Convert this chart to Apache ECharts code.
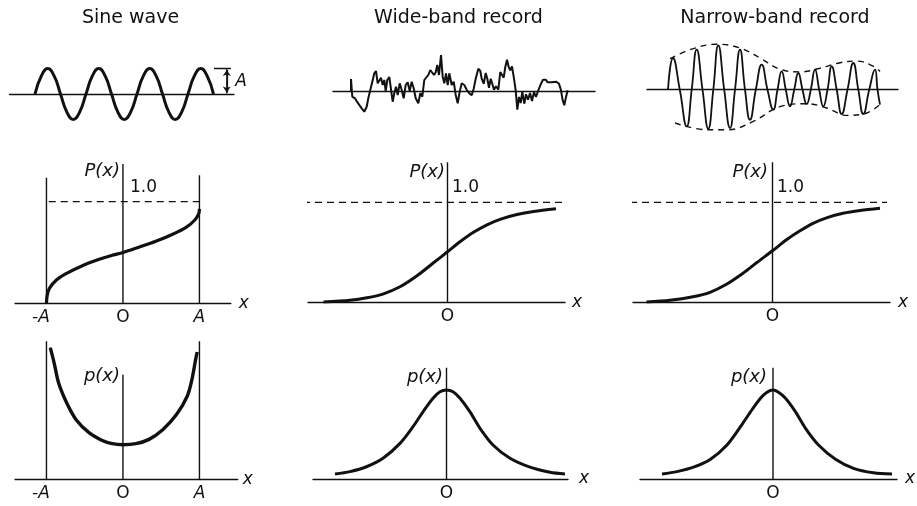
<!DOCTYPE html>
<html>
<head>
<meta charset="utf-8">
<title>Probability functions of three records</title>
<script src="https://cdn.jsdelivr.net/npm/echarts@6/dist/echarts.min.js"></script>
<style>
  html, body { margin: 0; padding: 0; background: #ffffff; }
  #chart { width: 917px; height: 506px; }
</style>
</head>
<body>
<div id="chart"></div>
<script>
// ---------- text ----------
const panelTitles = ['Sine wave', 'Wide-band record', 'Narrow-band record'];
const sineTickValues = [-1, 0, 1];
const sineTickLabels = ['-A', 'O', 'A'];
const randomTickValues = [0];
const randomTickLabels = ['O'];
const cdfLabel = 'P(x)';
const pdfLabel = 'p(x)';
const unitLabel = '1.0';
const amplitudeLabel = 'A';
const axisName = 'x';

// ---------- records (top row) ----------
// sine record: time in periods, amplitude in units of A
const sineTime = [0, 0.125, 0.25, 0.375, 0.5, 0.625, 0.75, 0.875, 1, 1.125, 1.25, 1.375, 1.5, 1.625, 1.75, 1.875,
  2, 2.125, 2.25, 2.375, 2.5, 2.625, 2.75, 2.875, 3, 3.125, 3.25, 3.375, 3.5];
const sineValue = [0, 0.71, 1, 0.71, 0, -0.71, -1, -0.71, 0, 0.71, 1, 0.71, 0, -0.71, -1, -0.71,
  0, 0.71, 1, 0.71, 0, -0.71, -1, -0.71, 0, 0.71, 1, 0.71, 0];

// wide-band record: [time, amplitude]
const wideRecord = [
  [16, 0], [16, 12], [17.3, -5.7], [20, -7.3], [22, -10.7], [24, -9], [26.7, -17.3], [29.3, -20.7], [31.7, -15.7],
  [33.3, -7.3], [35.3, 1], [37.3, 9.3], [39.3, 17.7], [41, 20], [42.7, 7.7], [44.3, 9.3], [46, 13.3], [47.7, 6],
  [49.3, 11], [50.7, 0], [52.3, 11], [54.3, 14], [56, 13.3], [57.7, -10.7], [59.3, -2.3], [61, 4.3], [62.7, -4],
  [64.7, 7.7], [66.7, 1], [68.7, -7.3], [70.7, 6], [72.7, 8.7], [74.7, 0], [76.7, 9.3], [78.7, 2.7], [80.7, -7.3],
  [83.3, -12.3], [85.3, -2.3], [87.3, -5.7], [89.3, 11], [91.3, 12.7], [93.3, 16], [95.3, 21], [97.3, 22.7],
  [99, 16], [100.7, 18.7], [102.3, 26], [104, 16], [106, 36], [107.7, 14.3], [109.3, 7.7], [111, 17.7], [112.7, 6],
  [114.3, 17.7], [116.7, 6], [118.7, 9.3], [120.7, -4], [122.7, -12.3], [124.7, -0.7], [126.7, 7.7], [129.3, 6],
  [131.7, 1.3], [134, -2], [136.7, -4.3], [138.7, 2.3], [140.7, 12.3], [143.3, 22.3], [145.3, 20], [146.7, 12.3],
  [148.7, 7.3], [150.7, 18], [152.3, 12.3], [154, 3.3], [155.7, 12.3], [157.3, 7.3], [159, 1.3], [161, 4.7],
  [163.3, 1.3], [165.3, 19], [167.3, 20], [168.7, 13.3], [170.3, 24], [172, 31.3], [173.7, 24], [175.3, 20.7],
  [177, 24.7], [179, 12.3], [180.7, 0.7], [182.3, -18.7], [184, -6], [185.7, -12], [187.3, -1], [189.3, -12.7],
  [191, -3.3], [193, -8.7], [195, -2], [197, -10], [199, -1], [201, -6], [203.3, 0.7], [206, 7.3], [208, 11.3],
  [210.7, 11.3], [212.7, 8.7], [214.7, 10.7], [216.7, 8.7], [218.7, 10], [221.3, 9.3], [224, 7.3], [226, 0.7],
  [227.7, -9.3], [229.3, -14.3], [231, -6], [232.7, 0.7]
];

// narrow-band record: [time, amplitude] at crossings and crests
const narrowRecord = [
  [28, 0], [33, 31.7], [39.8, 0], [46.7, -36.7], [51.7, 0], [56.7, 40], [62.5, 0], [68.3, -39], [73.3, 0],
  [78.3, 44.3], [84.2, 0], [90, -38.3], [95, 0], [100, 40], [105, 0], [110, -30], [115.8, 0], [121.7, 25],
  [127.5, 0], [133.3, -20], [137.5, 0], [141.7, 18.3], [145.8, 0], [150, -16.7], [154.2, 0], [158.3, 16.7],
  [162.5, 0], [166.7, -14.3], [170.8, 0], [175, 20], [179.2, 0], [183.3, -16.7], [187.5, 0], [191.7, 23.3],
  [196.7, 0], [201.7, -24.3], [207.5, 0], [213.3, 26.7], [218.3, 0], [223.3, -24.3], [229.2, 0], [235, 20],
  [237.5, 0], [240, -15]
];
const narrowUpperEnvelope = [
  [30, 31], [50, 40], [76.7, 45.5], [100, 41.7], [120, 31.7], [140, 20.5], [160, 17.8], [180, 21.5], [200, 27],
  [216.7, 28.6], [233.3, 23.5], [240, 18.3]
];
const narrowLowerEnvelope = [
  [35, -33.3], [66.7, -40], [88.3, -40], [113.3, -31.7], [140, -17], [166.7, -14], [186.7, -18.3], [206.7, -25.7],
  [226.7, -23.3], [241.7, -13.3]
];

// ---------- probability distribution functions (middle row) ----------
const sineCdfX = [-1, -0.99, -0.96, -0.87, -0.75, -0.53, -0.32, -0.15, 0, 0.2, 0.43, 0.65, 0.83, 0.94, 0.99, 1];
const sineCdfP = [0, 0.08, 0.15, 0.23, 0.29, 0.37, 0.43, 0.47, 0.5, 0.55, 0.61, 0.68, 0.75, 0.82, 0.88, 0.93];
const wideCdfX = [-2.48, -1.95, -1.61, -1.28, -0.95, -0.61, -0.28, 0, 0.25, 0.52, 0.79, 1.05, 1.39, 1.72, 2.17];
const wideCdfP = [0.003, 0.02, 0.045, 0.085, 0.155, 0.265, 0.395, 0.505, 0.605, 0.7, 0.775, 0.83, 0.878, 0.908, 0.935];
const narrowCdfX = [-2.52, -2.05, -1.59, -1.25, -0.92, -0.59, -0.32, 0, 0.28, 0.55, 0.81, 1.08, 1.41, 1.75, 2.15];
const narrowCdfP = [0.003, 0.02, 0.055, 0.1, 0.18, 0.29, 0.395, 0.515, 0.625, 0.715, 0.79, 0.845, 0.89, 0.918, 0.94];

// ---------- probability density functions (bottom row) ----------
const sinePdfX = [-0.95, -0.9, -0.84, -0.73, -0.61, -0.44, -0.27, -0.14, 0, 0.17, 0.34, 0.52, 0.7, 0.84, 0.9, 0.95, 0.97];
const sinePdfP = [1.22, 1.08, 0.89, 0.7, 0.55, 0.43, 0.36, 0.33, 0.32, 0.33, 0.37, 0.46, 0.6, 0.77, 0.92, 1.11, 1.18];
const widePdfX = [-2.23, -1.93, -1.6, -1.27, -0.93, -0.67, -0.47, -0.27, -0.13, 0, 0.13, 0.27, 0.47, 0.67, 0.93, 1.27, 1.67, 2.07, 2.37];
const widePdfP = [0.022, 0.033, 0.055, 0.093, 0.16, 0.235, 0.302, 0.363, 0.392, 0.4, 0.392, 0.363, 0.302, 0.228, 0.153, 0.093, 0.053, 0.03, 0.022];
const narrowPdfX = [-2.22, -1.92, -1.59, -1.25, -0.92, -0.65, -0.45, -0.25, -0.12, 0, 0.11, 0.25, 0.45, 0.65, 0.91, 1.25, 1.61, 2.01, 2.38];
const narrowPdfP = [0.022, 0.033, 0.053, 0.089, 0.153, 0.235, 0.302, 0.363, 0.39, 0.4, 0.39, 0.363, 0.302, 0.228, 0.153, 0.089, 0.048, 0.028, 0.022];

// ---------- drawing ----------
const INK = '#111111';
const FONT = '"DejaVu Sans", sans-serif';
const zip = (xs, ys) => xs.map((x, k) => [x, ys[k]]);

const grids = [], xAxes = [], yAxes = [], series = [];

function panel(box, xRange, yRange, xExtra, baselineOnZero) {
  const i = grids.length;
  grids.push({ left: box[0], top: box[1], width: box[2], height: box[3] });
  xAxes.push(Object.assign({
    gridIndex: i, type: 'value', min: xRange[0], max: xRange[1],
    axisLine: { show: true, onZero: !!baselineOnZero, lineStyle: { color: INK, width: 1.4 } },
    axisTick: { show: false }, axisLabel: { show: false }, splitLine: { show: false }
  }, xExtra || {}));
  yAxes.push({ gridIndex: i, type: 'value', min: yRange[0], max: yRange[1], show: false });
  return i;
}

function line(i, data, width, extra) {
  series.push(Object.assign({
    type: 'line', xAxisIndex: i, yAxisIndex: i, data: data,
    symbol: 'none', showSymbol: false, silent: true, animation: false,
    lineStyle: { color: INK, width: width }
  }, extra || {}));
}

function tickAxis(values, labels, gap) {
  return {
    name: axisName, nameLocation: 'end', nameGap: gap,
    nameTextStyle: { fontStyle: 'italic', fontSize: 17, fontFamily: FONT, color: INK, verticalAlign: 'middle' },
    axisLabel: {
      show: true, customValues: values, margin: 6, color: INK, fontSize: 17, fontFamily: FONT,
      formatter: v => {
        const t = labels[values.indexOf(v)];
        if (t === 'O') return t;
        return t.charAt(0) === '-' ? '{m|' + t + '}' : '{i|' + t + '}';
      },
      rich: {
        i: { fontStyle: 'italic', fontSize: 17, fontFamily: FONT, color: INK },
        m: { fontStyle: 'italic', fontSize: 17, fontFamily: FONT, color: INK, padding: [0, 11, 0, 0] }
      }
    }
  };
}

const dashed = { type: [7, 5] };
const smoothCurve = { smooth: 0.3 };

// top row: records, drawn about a zero baseline
const gSine = panel([9.5, 58.3, 224.4, 71.4], [-0.5, 3.9], [-1.4, 1.4], null, true);
line(gSine, zip(sineTime, sineValue), 3, { smooth: 0.5 });
line(gSine, [[3.51, 1], [3.84, 1]], 1.3);
line(gSine, [[3.76, 0.02], [3.76, 0.98]], 1.2, {
  markLine: {
    silent: true, symbol: ['arrow', 'arrow'], symbolSize: 6, label: { show: false },
    lineStyle: { color: INK, width: 1.2, type: 'solid' },
    data: [[{ coord: [3.76, 0.06] }, { coord: [3.76, 0.94] }]]
  }
});

const gWide = panel([333, 51, 262, 80], [-2, 260], [-40, 40], null, true);
line(gWide, wideRecord, 2);

const gNarrow = panel([647, 39.7, 251, 100], [7, 258], [-50, 50], null, true);
line(gNarrow, narrowRecord, 1.8, { smooth: 0.5 });
line(gNarrow, narrowUpperEnvelope, 1.4, { smooth: 0.4, lineStyle: { color: INK, width: 1.4, type: [6, 5] } });
line(gNarrow, narrowLowerEnvelope, 1.4, { smooth: 0.4, lineStyle: { color: INK, width: 1.4, type: [6, 5] } });

// middle row: distribution functions
const gSineCdf = panel([15.1, 164.1, 215.7, 139.2], [-1.41, 1.41], [0, 1.37], tickAxis(sineTickValues, sineTickLabels, 8));
line(gSineCdf, [[-1, 0], [-1, 1.235]], 1.4);
line(gSineCdf, [[0, 0], [0, 1.37]], 1.4);
line(gSineCdf, [[1, 0], [1, 1.26]], 1.4);
line(gSineCdf, [[-0.97, 1], [1, 1]], 1.2, { lineStyle: Object.assign({ color: INK, width: 1.2 }, dashed) });
line(gSineCdf, zip(sineCdfX, sineCdfP), 3.2, smoothCurve);

const gWideCdf = panel([308, 162.3, 257, 140], [-2.79, 2.35], [0, 1.4], tickAxis(randomTickValues, randomTickLabels, 7));
line(gWideCdf, [[0, 0], [0, 1.4]], 1.4);
line(gWideCdf, [[-2.89, 1], [2.29, 1]], 1.2, { clip: false, lineStyle: Object.assign({ color: INK, width: 1.2 }, dashed) });
line(gWideCdf, zip(wideCdfX, wideCdfP), 3, smoothCurve);

const gNarrowCdf = panel([633, 162.3, 257, 140], [-2.79, 2.35], [0, 1.4], tickAxis(randomTickValues, randomTickLabels, 8));
line(gNarrowCdf, [[0, 0], [0, 1.4]], 1.4);
line(gNarrowCdf, [[-2.85, 1], [2.29, 1]], 1.2, { clip: false, lineStyle: Object.assign({ color: INK, width: 1.2 }, dashed) });
line(gNarrowCdf, zip(narrowCdfX, narrowCdfP), 3, smoothCurve);

// bottom row: density functions
const gSinePdf = panel([15.1, 341.2, 222.6, 138.1], [-1.41, 1.5], [0, 1.28], tickAxis(sineTickValues, sineTickLabels, 5));
line(gSinePdf, [[-1, 0], [-1, 1.28]], 1.4);
line(gSinePdf, [[0, 0], [0, 0.97]], 1.4);
line(gSinePdf, [[1, 0], [1, 1.28]], 1.4);
line(gSinePdf, zip(sinePdfX, sinePdfP), 3.4, smoothCurve);

const gWidePdf = panel([313, 367.75, 255, 111.25], [-2.67, 2.43], [0, 0.5], tickAxis(randomTickValues, randomTickLabels, 11));
line(gWidePdf, [[0, 0], [0, 0.5]], 1.4);
line(gWidePdf, zip(widePdfX, widePdfP), 3, smoothCurve);

const gNarrowPdf = panel([640, 367.75, 257, 111.25], [-2.66, 2.48], [0, 0.5], tickAxis(randomTickValues, randomTickLabels, 8));
line(gNarrowPdf, [[0, 0], [0, 0.5]], 1.4);
line(gNarrowPdf, zip(narrowPdfX, narrowPdfP), 3, smoothCurve);

// text
function text(str, x, y, size, opts) {
  return {
    type: 'text', x: x, y: y, silent: true,
    style: Object.assign({
      text: str, fill: INK, font: size + 'px ' + FONT, align: 'center', verticalAlign: 'middle'
    }, opts || {})
  };
}
const italic = s => 'italic ' + s + 'px ' + FONT;

const graphics = [
  text(panelTitles[0], 130.5, 18.5, 19),
  text(panelTitles[1], 458.5, 18.5, 19),
  text(panelTitles[2], 775, 18.5, 19),
  text(amplitudeLabel, 241, 82, 17, { font: italic(17) }),
  text(cdfLabel, 120, 171, 18, { font: italic(18), align: 'right' }),
  text(cdfLabel, 445, 172, 18, { font: italic(18), align: 'right' }),
  text(cdfLabel, 768, 172, 18, { font: italic(18), align: 'right' }),
  text(unitLabel, 130, 188, 17, { align: 'left' }),
  text(unitLabel, 452, 188, 17, { align: 'left' }),
  text(unitLabel, 777, 188, 17, { align: 'left' }),
  text(pdfLabel, 120, 376, 18, { font: italic(18), align: 'right' }),
  text(pdfLabel, 443, 377, 18, { font: italic(18), align: 'right' }),
  text(pdfLabel, 767, 377, 18, { font: italic(18), align: 'right' })
];

const chart = echarts.init(document.getElementById('chart'), null, { renderer: 'canvas' });
chart.setOption({
  backgroundColor: '#ffffff',
  animation: false,
  grid: grids,
  xAxis: xAxes,
  yAxis: yAxes,
  series: series,
  graphic: graphics
});
</script>
</body>
</html>
